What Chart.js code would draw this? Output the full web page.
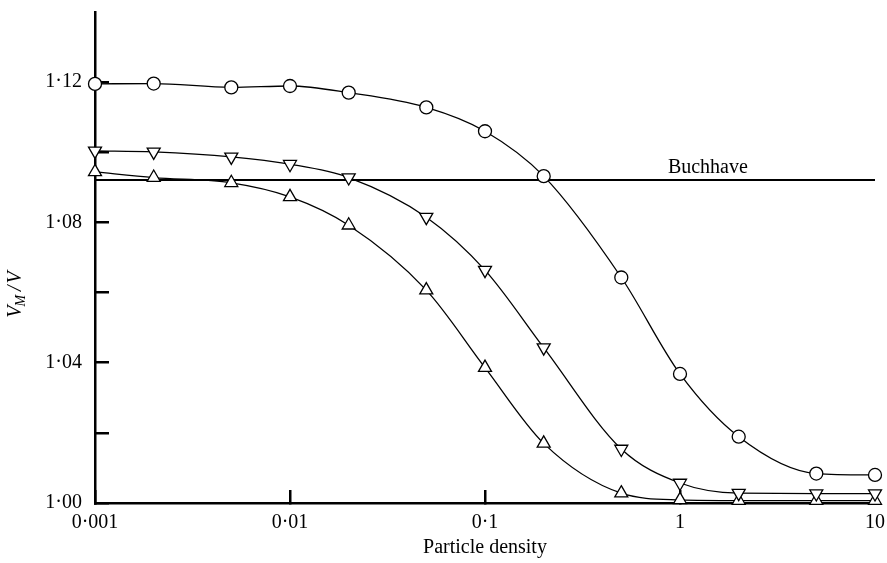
<!DOCTYPE html>
<html>
<head>
<meta charset="utf-8">
<script src="https://cdn.jsdelivr.net/npm/chart.js@4.4.1/dist/chart.umd.min.js"></script>
<style>
  html, body { margin: 0; padding: 0; background: #fff; }
  #wrap { width: 887px; height: 563px; }
</style>
</head>
<body>
<div id="wrap"><canvas id="myChart" width="887" height="563"></canvas></div>
<script>
// Particle density (x) for every measured point
const density = [0.001, 0.002, 0.005, 0.01, 0.02, 0.05, 0.1, 0.2, 0.5, 1, 2, 5, 10]

// V_M / V
const circleValues = [1.1195, 1.1196, 1.1185, 1.1189, 1.117, 1.1128, 1.106, 1.0932, 1.0643, 1.0368, 1.0189, 1.0084, 1.008]
const downTriValues = [1.1004, 1.1001, 1.0987, 1.0966, 1.0928, 1.0815, 1.0664, 1.0443, 1.0154, 1.0057, 1.0028, 1.0027, 1.0027]
const upTriValues = [1.0944, 1.0928, 1.0913, 1.0873, 1.0792, 1.0607, 1.0386, 1.017, 1.0028, 1.0009, 1.0007, 1.0007, 1.0007]

// Buchhave reference level
const buchhaveValue = 1.0921
const buchhaveRange = [0.001, 10]
const buchhaveLabel = 'Buchhave'
const buchhaveLabelAt = 1.39

// Axis ticks
const xTicks = [0.001, 0.01, 0.1, 1, 10]
const xTickLabels = ['0·001', '0·01', '0·1', '1', '10']
const yTicks = [1.00, 1.02, 1.04, 1.06, 1.08, 1.10, 1.12]
const yTickLabels = ['1·00', '', '1·04', '', '1·08', '', '1·12']

const xTitle = 'Particle density'

function toPoints(values) {
    return values.map((v, i) => ({ x: density[i], y: v }))
}

// y axis title V_M / V, drawn rotated with a subscript
const yTitlePlugin = {
    id: 'yTitle',
    afterDraw(chart) {
        const ctx = chart.ctx
        const y = chart.scales.y
        const mid = (y.top + y.bottom) / 2 + 37
        ctx.save()
        ctx.fillStyle = 'black'
        ctx.translate(21, mid)
        ctx.rotate(-Math.PI / 2)
        ctx.textBaseline = 'alphabetic'
        const big = 'italic 20px "Liberation Serif"'
        const small = 'italic 14px "Liberation Serif"'
        ctx.font = big
        const wV = ctx.measureText('V').width
        const wSlash = ctx.measureText('/').width
        ctx.font = small
        const wM = ctx.measureText('M').width
        const total = wV + wM + 3 + wSlash + 2 + wV
        let cx = -total / 2
        ctx.font = big
        ctx.fillText('V', cx, 0)
        cx += wV - 1
        ctx.font = small
        ctx.fillText('M', cx, 4)
        cx += wM + 4
        ctx.font = big
        ctx.fillText('/', cx, 0)
        cx += wSlash + 2
        ctx.fillText('V', cx, 0)
        ctx.restore()
    }
}

// label above the Buchhave line
const buchhavePlugin = {
    id: 'buchhaveText',
    afterDatasetsDraw(chart) {
        const ctx = chart.ctx
        const px = chart.scales.x.getPixelForValue(buchhaveLabelAt)
        const py = chart.scales.y.getPixelForValue(buchhaveValue)
        ctx.save()
        ctx.fillStyle = 'black'
        ctx.font = '20px "Liberation Serif"'
        ctx.textAlign = 'center'
        ctx.textBaseline = 'alphabetic'
        ctx.fillText(buchhaveLabel, px, py - 7)
        ctx.restore()
    }
}

Chart.defaults.font.family = '"Liberation Serif", "Times New Roman", serif'
Chart.defaults.font.size = 20
Chart.defaults.color = 'black'

const markerStyle = {
    borderColor: 'black',
    borderWidth: 1.3,
    pointBackgroundColor: 'white',
    pointBorderColor: 'black',
    pointBorderWidth: 1.3,
    cubicInterpolationMode: 'monotone',
    fill: false,
    clip: false
}

const ctx = document.getElementById('myChart').getContext('2d')
const config = {
    type: 'line',
    data: {
        datasets: [
            Object.assign({ data: toPoints(circleValues), pointStyle: 'circle', pointRadius: 6.5 }, markerStyle),
            Object.assign({ data: toPoints(downTriValues), pointStyle: 'triangle', pointRotation: 180, pointRadius: 7.5 }, markerStyle),
            Object.assign({ data: toPoints(upTriValues), pointStyle: 'triangle', pointRadius: 7.5 }, markerStyle),
            {
                data: buchhaveRange.map(x => ({ x: x, y: buchhaveValue })),
                borderColor: 'black',
                borderWidth: 2.2,
                pointRadius: 0,
                fill: false,
                clip: false
            }
        ]
    },
    options: {
        responsive: false,
        animation: false,
        layout: {
            padding: { top: 12, right: 12, left: 0, bottom: 0 }
        },
        plugins: {
            legend: { display: false },
            tooltip: { enabled: false }
        },
        scales: {
            x: {
                type: 'logarithmic',
                min: 0.001,
                max: 10,
                afterBuildTicks: (scale) => {
                    scale.ticks = xTicks.map(v => ({ value: v, major: true }))
                },
                afterFit: (scale) => {
                    scale.height = 60
                    scale.paddingLeft = 0
                    scale.paddingRight = 0
                },
                ticks: {
                    autoSkip: false,
                    maxRotation: 0,
                    padding: 21,
                    callback: function(value, index) {
                        return xTickLabels[index]
                    }
                },
                grid: {
                    drawOnChartArea: false,
                    drawTicks: true,
                    tickLength: -13,
                    lineWidth: 2.5,
                    color: 'black'
                },
                border: { display: true, color: 'black', width: 2.5 },
                title: {
                    display: true,
                    text: xTitle,
                    padding: { top: 0, bottom: 3 }
                }
            },
            y: {
                type: 'linear',
                min: 1.0,
                max: 1.14,
                afterBuildTicks: (scale) => {
                    scale.ticks = yTicks.map(v => ({ value: v }))
                },
                afterFit: (scale) => {
                    scale.width = 95
                    scale.paddingTop = 0
                    scale.paddingBottom = 0
                },
                ticks: {
                    padding: 27,
                    callback: function(value, index) {
                        return yTickLabels[index]
                    }
                },
                grid: {
                    drawOnChartArea: false,
                    drawTicks: true,
                    tickLength: -14,
                    lineWidth: 2.5,
                    color: 'black'
                },
                border: { display: true, color: 'black', width: 2.5 }
            }
        }
    },
    plugins: [yTitlePlugin, buchhavePlugin]
}

const myChart = new Chart(ctx, config)
</script>
</body>
</html>
